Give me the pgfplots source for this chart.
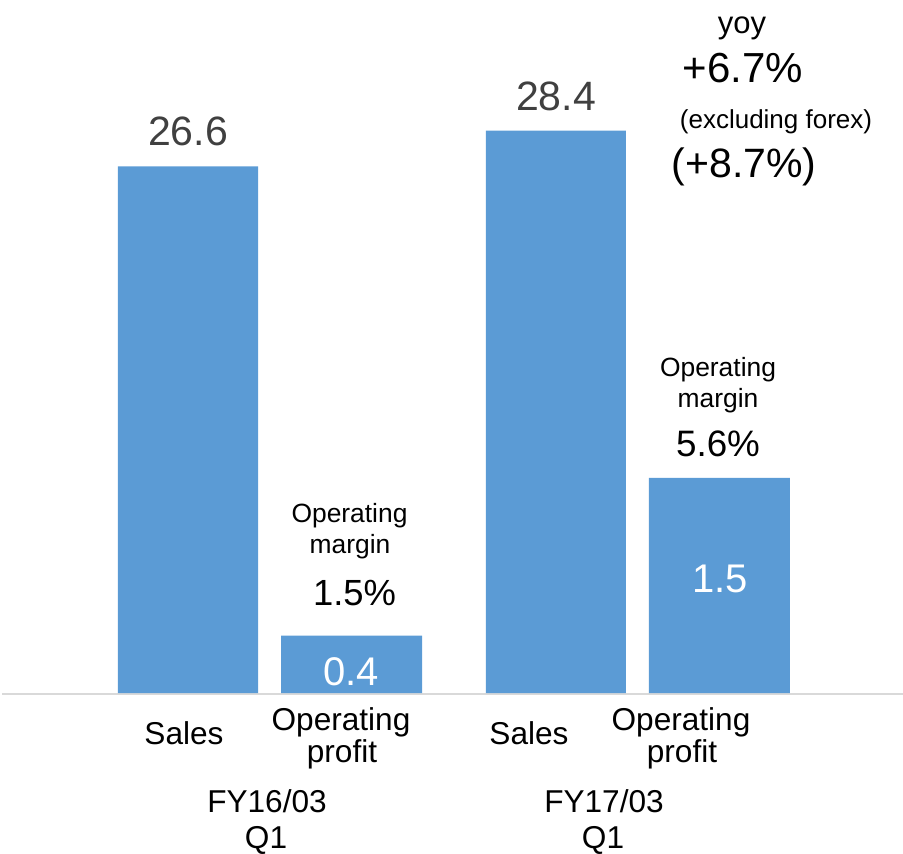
\documentclass[border=0pt]{standalone}
\usepackage{pgfplots}
\pgfplotsset{compat=1.18}
\usepackage{fontspec}
\setmainfont{Liberation Sans}
\definecolor{barblue}{HTML}{5B9BD5}
\definecolor{lbl}{HTML}{404040}
\definecolor{basel}{HTML}{D9D9D9}
\newcommand{\fs}[1]{\fontsize{#1pt}{#1pt}\selectfont}

\begin{document}
\begin{tikzpicture}
\useasboundingbox (0,0) rectangle (451.5pt,-426.5pt);
\begin{scope}[x=0.5pt,y=-0.5pt]
\draw[basel, line width=1pt] (2,693.5) -- (903,693.5);
\end{scope}
\pgfplotsset{barax/.style={at={(0,-346.5pt)}, anchor=south west, scale only axis,
  width=451.5pt, height=346.5pt, xmin=-1.1498, xmax=4.3731, ymin=0, hide axis, clip=false}}
% Sales (left scale)
\begin{axis}[barax, ymax=35.0]
\addplot[ybar, bar width=70pt, fill=barblue, draw=none] coordinates {(0,26.6) (2.25,28.4)};
\end{axis}
% Operating profit (own scale)
\begin{axis}[barax, ymax=4.829]
\addplot[ybar, bar width=70.5pt, fill=barblue, draw=none] coordinates {(1,0.4) (3.25,1.5)};
\end{axis}
\begin{scope}[x=0.5pt,y=-0.5pt, every node/.style={anchor=base, inner sep=0pt}]
% value labels
\node[text=lbl, font=\fs{20.5}] at (188,145) {26.6};
\node[text=lbl, font=\fs{20.5}] at (556,110) {28.4};
\node[text=white, font=\fs{20}] at (351,685) {0.4};
\node[text=white, font=\fs{20}] at (720,592) {1.5};
% operating margin
\node[font=\fs{13.2}] at (349.5,522) {Operating};
\node[font=\fs{13.2}] at (350,553) {margin};
\node[font=\fs{18.2}] at (354.5,605) {1.5\%};
\node[font=\fs{13.2}] at (718,376) {Operating};
\node[font=\fs{13.2}] at (718,407) {margin};
\node[font=\fs{18.4}] at (718,456) {5.6\%};
% yoy
\node[font=\fs{15.5}] at (742,33) {yoy};
\node[font=\fs{21}] at (743,82) {+6.7\%};
\node[font=\fs{13}] at (776,128) {(excluding forex)};
\node[font=\fs{20.5}] at (744,177) {(+8.7\%)};
% category labels
\node[font=\fs{15.8}] at (184,744) {Sales};
\node[font=\fs{15.8}] at (341,730) {Operating};
\node[font=\fs{15.8}] at (342,762) {profit};
\node[font=\fs{15.8}] at (529,744) {Sales};
\node[font=\fs{15.8}] at (681,730) {Operating};
\node[font=\fs{15.8}] at (682,762) {profit};
\node[font=\fs{15.8}] at (267,812) {FY16/03};
\node[font=\fs{15.8}] at (266,848) {Q1};
\node[font=\fs{15.8}] at (604,812) {FY17/03};
\node[font=\fs{15.8}] at (603,848) {Q1};
\end{scope}
\end{tikzpicture}
\end{document}
